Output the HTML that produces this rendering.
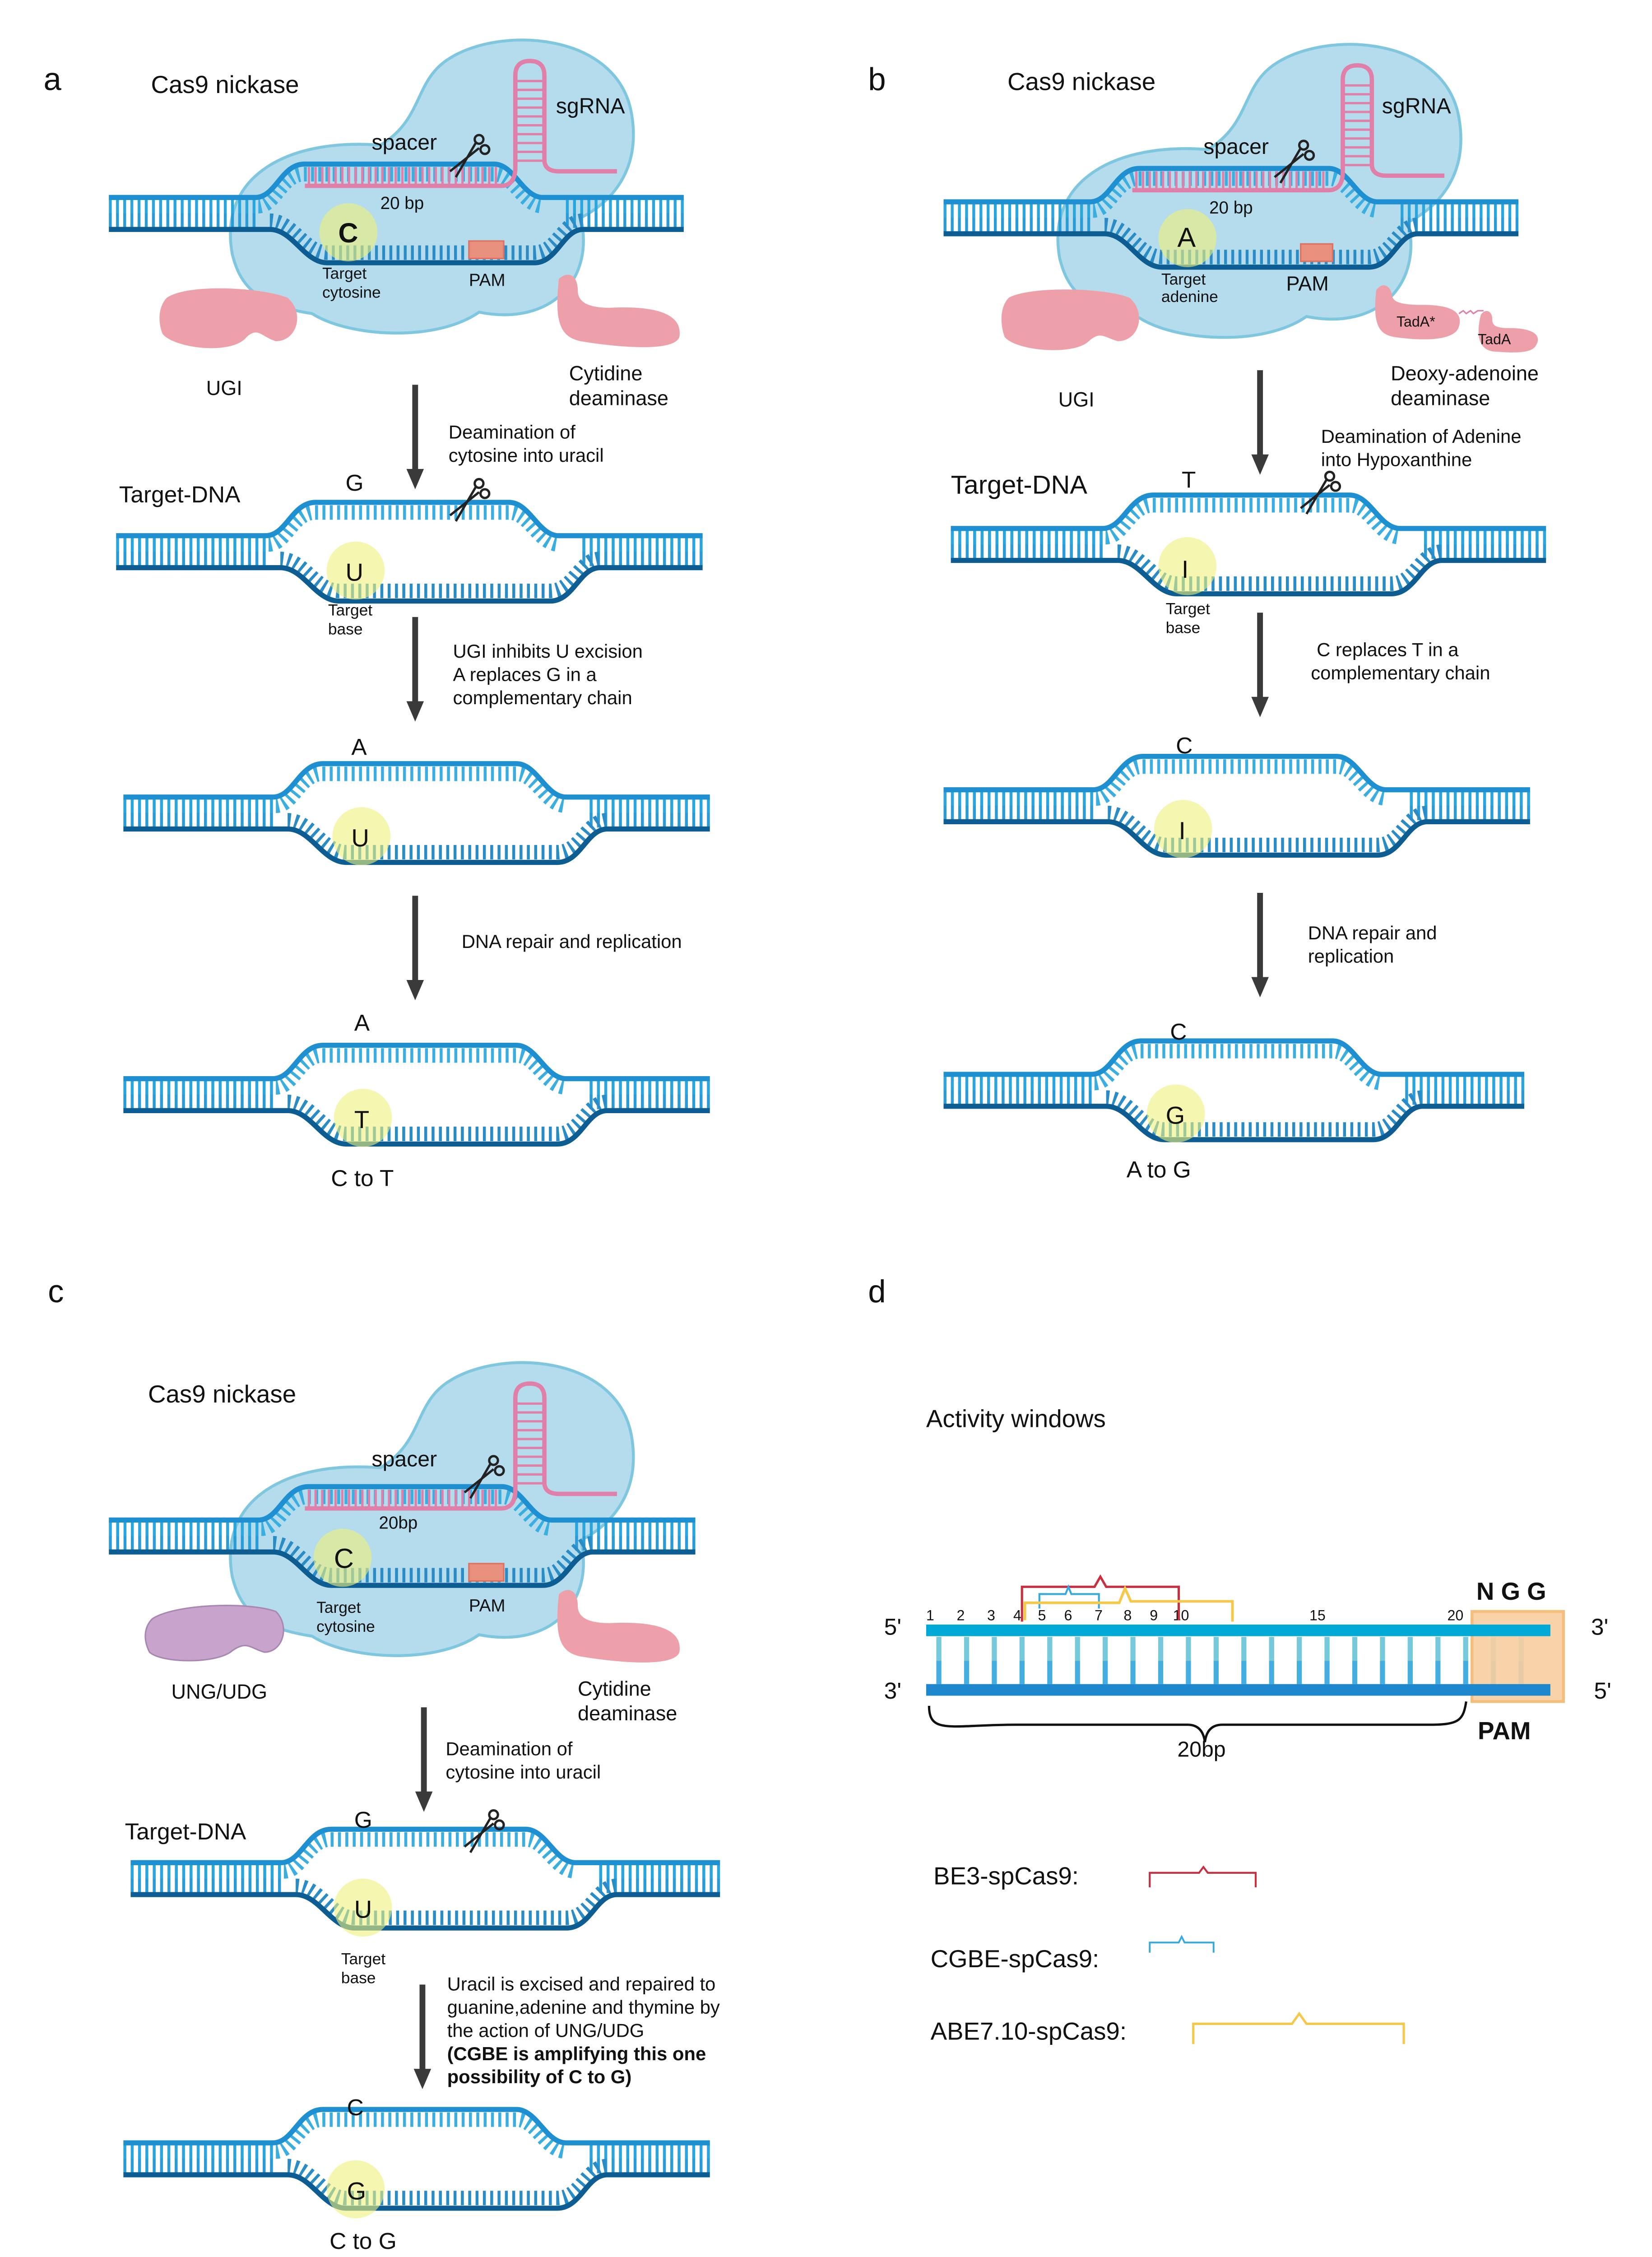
<!DOCTYPE html>
<html><head><meta charset="utf-8"><style>
html,body{margin:0;padding:0;background:#fff;overflow:hidden;width:3660px;height:5117px;}
svg{display:block;}
text{font-family:"Liberation Sans",sans-serif;fill:#111;}
</style></head><body>
<svg width="3660" height="5117" viewBox="0 0 1138 1591" xmlns="http://www.w3.org/2000/svg">
<defs>
 <g id="dna">
  <line x1="0" y1="6" x2="102" y2="6" stroke="#2aa6df" stroke-width="11" stroke-dasharray="2 3"/>
  <line x1="0" y1="16" x2="102" y2="16" stroke="#2a9bd6" stroke-width="10" stroke-dasharray="2 3"/>
  <line x1="318" y1="6" x2="400" y2="6" stroke="#2aa6df" stroke-width="11" stroke-dasharray="2 3"/>
  <line x1="318" y1="16" x2="400" y2="16" stroke="#2a9bd6" stroke-width="10" stroke-dasharray="2 3"/>
  <path d="M104,6 C116,6 120,-16 136,-16 H268 C282,-16 288,6 302,6" fill="none" stroke="#3aaee0" stroke-width="10" stroke-dasharray="2 3"/>
  <path d="M112,16 C128,16 136,38 152,38 H296 C312,38 316,16 330,16" fill="none" stroke="#2a8cc6" stroke-width="10" stroke-dasharray="2 3"/>
  <path d="M0,0 H102 C116,0 120,-23 136,-23 H268 C282,-23 288,0 302,0 H400" fill="none" stroke="#1e8fd0" stroke-width="3.5"/>
  <path d="M0,22 H112 C128,22 136,45 152,45 H296 C312,45 316,22 330,22 H400" fill="none" stroke="#0d5d93" stroke-width="3.5"/>
 </g>
 <g id="sc" stroke="#222" stroke-width="1.6" fill="none">
  <line x1="-12" y1="10" x2="8" y2="-6"/><line x1="-8" y1="14" x2="6" y2="-10"/>
  <circle cx="8" cy="-12" r="3"/><circle cx="12" cy="-5" r="3"/>
 </g>
 <g id="arr"><line x1="0" y1="0" x2="0" y2="60" stroke="#3a3a3a" stroke-width="4"/><path d="M-6,58 L6,58 L0,72 Z" fill="#3a3a3a"/></g>
 <g id="cas">
  <path d="M160,175 C150,120 200,95 262,100 C292,82 285,55 310,40 C345,18 425,22 435,78 C442,118 420,140 400,150 C410,192 380,225 330,215 C300,236 240,232 215,216 C175,210 165,195 160,175 Z" fill="#b4dcec" stroke="#7fc6df" stroke-width="2"/>
 </g>
 <g id="rna">
  <line x1="365" y1="55" x2="365" y2="112" stroke="#e07fa8" stroke-width="20" stroke-dasharray="1.6 4.5"/>
  <line x1="212" y1="121" x2="345" y2="121" stroke="#e07fa8" stroke-width="12" stroke-dasharray="1.6 3"/>
  <path d="M210,128 H345 Q355,128 355,115 V52 Q355,42 365,42 Q375,42 375,52 V110 Q375,118 385,118 H425" fill="none" stroke="#e07fa8" stroke-width="3"/>
 </g>
</defs>

<!-- Panel a -->
<text x="30" y="62" font-size="22">a</text>
<use href="#cas"/>
<use href="#dna" transform="translate(75,136) scale(0.99,1)"/>
<use href="#rna"/>
<circle cx="240" cy="160" r="20" fill="#eef07a" opacity="0.6"/>
<rect x="323" y="166" width="24" height="12" fill="#e7907e" stroke="#e07060"/>
<use href="#sc" transform="translate(322,108)"/>
<text x="104" y="64" font-size="17">Cas9 nickase</text>
<text x="383" y="78" font-size="15">sgRNA</text>
<text x="256" y="103" font-size="15">spacer</text>
<text x="262" y="144" font-size="12">20 bp</text>
<text x="233" y="167" font-size="19" font-weight="bold">C</text>
<text x="222" y="192" font-size="11">Target</text><text x="222" y="205" font-size="11">cytosine</text>
<text x="323" y="197" font-size="12">PAM</text>
<path d="M115,205 C130,195 180,198 198,205 C210,215 205,235 190,235 C180,232 178,225 170,232 C160,245 120,240 112,230 C108,220 110,210 115,205 Z" fill="#eea0aa"/>
<path d="M385,192 C392,186 398,190 398,200 C398,208 405,212 420,212 C460,210 470,220 468,232 C465,242 430,240 400,235 C385,232 382,220 385,192 Z" fill="#eea0aa"/>
<text x="142" y="272" font-size="14">UGI</text>
<text x="392" y="262" font-size="14">Cytidine</text><text x="392" y="279" font-size="14">deaminase</text>
<use href="#arr" transform="translate(286,265)"/>
<text x="309" y="302" font-size="13">Deamination of</text><text x="309" y="318" font-size="13">cytosine into uracil</text>
<text x="82" y="346" font-size="16">Target-DNA</text>
<use href="#dna" transform="translate(80,369) scale(1.01,1)"/>
<text x="238" y="338" font-size="16">G</text>
<use href="#sc" transform="translate(322,345)"/>
<circle cx="245" cy="393" r="20" fill="#eef07a" opacity="0.6"/>
<text x="238" y="400" font-size="17">U</text>
<text x="226" y="424" font-size="11">Target</text><text x="226" y="437" font-size="11">base</text>
<use href="#arr" transform="translate(286,425)"/>
<text x="312" y="453" font-size="13">UGI inhibits U excision</text><text x="312" y="469" font-size="13">A replaces G in a</text><text x="312" y="485" font-size="13">complementary chain</text>
<use href="#dna" transform="translate(85,549) scale(1.01,1)"/>
<text x="242" y="520" font-size="16">A</text>
<circle cx="249" cy="576" r="20" fill="#eef07a" opacity="0.6"/>
<text x="242" y="583" font-size="17">U</text>
<use href="#arr" transform="translate(286,617)"/>
<text x="318" y="653" font-size="13">DNA repair and replication</text>
<use href="#dna" transform="translate(85,743) scale(1.01,1)"/>
<text x="244" y="710" font-size="16">A</text>
<circle cx="250" cy="770" r="20" fill="#eef07a" opacity="0.6"/>
<text x="244" y="777" font-size="17">T</text>
<text x="228" y="817" font-size="16">C to T</text>

<!-- Panel b -->
<text x="598" y="62" font-size="22">b</text>
<g transform="translate(570,3)"><use href="#cas"/></g>
<use href="#dna" transform="translate(650,139) scale(0.99,1)"/>
<g transform="translate(570,3)"><use href="#rna"/></g>
<circle cx="818" cy="164" r="20" fill="#eef07a" opacity="0.6"/>
<rect x="896" y="168" width="22" height="12" fill="#e7907e" stroke="#e07060"/>
<use href="#sc" transform="translate(890,112)"/>
<text x="694" y="62" font-size="17">Cas9 nickase</text>
<text x="952" y="78" font-size="15">sgRNA</text>
<text x="829" y="106" font-size="15">spacer</text>
<text x="833" y="147" font-size="12">20 bp</text>
<text x="811" y="170" font-size="19">A</text>
<text x="800" y="196" font-size="11">Target</text><text x="800" y="208" font-size="11">adenine</text>
<text x="886" y="200" font-size="14">PAM</text>
<path d="M695,205 C710,197 760,198 778,205 C790,215 785,235 770,235 C760,232 758,228 750,235 C740,245 700,242 692,232 C688,220 690,210 695,205 Z" fill="#eea0aa"/>
<path d="M948,200 C952,194 958,196 959,204 C960,208 965,210 980,210 C1000,210 1008,215 1005,225 C1002,235 980,235 960,232 C948,230 946,220 948,200 Z" fill="#eea0aa"/>
<path d="M1020,217 C1023,212 1028,214 1028,220 C1028,224 1030,226 1040,226 C1058,226 1062,232 1058,238 C1055,244 1040,243 1028,242 C1018,240 1017,230 1020,217 Z" fill="#eea0aa"/>
<path d="M1005,216 l3,-2 l2,2 l3,-2 l2,2 l3,-2 h4" stroke="#e07fa8" fill="none"/>
<text x="962" y="225" font-size="10">TadA*</text>
<text x="1018" y="237" font-size="10">TadA</text>
<text x="729" y="280" font-size="14">UGI</text>
<text x="958" y="262" font-size="14">Deoxy-adenoine</text><text x="958" y="279" font-size="14">deaminase</text>
<use href="#arr" transform="translate(868,255)"/>
<text x="910" y="305" font-size="13">Deamination of Adenine</text><text x="910" y="321" font-size="13">into Hypoxanthine</text>
<text x="655" y="340" font-size="18">Target-DNA</text>
<use href="#dna" transform="translate(655,364) scale(1.025,1)"/>
<text x="814" y="336" font-size="16">T</text>
<use href="#sc" transform="translate(908,340)"/>
<circle cx="818" cy="390" r="20" fill="#eef07a" opacity="0.6"/>
<text x="814" y="398" font-size="17">I</text>
<text x="803" y="423" font-size="11">Target</text><text x="803" y="436" font-size="11">base</text>
<use href="#arr" transform="translate(868,422)"/>
<text x="907" y="452" font-size="13">C replaces T in a</text><text x="903" y="468" font-size="13">complementary chain</text>
<use href="#dna" transform="translate(650,544) scale(1.01,1)"/>
<text x="810" y="519" font-size="16">C</text>
<circle cx="815" cy="571" r="20" fill="#eef07a" opacity="0.6"/>
<text x="812" y="578" font-size="17">I</text>
<use href="#arr" transform="translate(868,615)"/>
<text x="901" y="647" font-size="13">DNA repair and</text><text x="901" y="663" font-size="13">replication</text>
<use href="#dna" transform="translate(650,740) scale(1.0,1)"/>
<text x="806" y="716" font-size="16">C</text>
<circle cx="810" cy="767" r="20" fill="#eef07a" opacity="0.6"/>
<text x="803" y="774" font-size="17">G</text>
<text x="776" y="811" font-size="16">A to G</text>

<!-- Panel c -->
<text x="33" y="897" font-size="22">c</text>
<g transform="translate(0,911)"><use href="#cas"/></g>
<use href="#dna" transform="translate(75,1047) scale(1.01,1)"/>
<g transform="translate(0,911)"><use href="#rna"/></g>
<circle cx="236" cy="1073" r="20" fill="#eef07a" opacity="0.6"/>
<rect x="323" y="1077" width="24" height="12" fill="#e7907e" stroke="#e07060"/>
<use href="#sc" transform="translate(332,1018)"/>
<text x="102" y="966" font-size="17">Cas9 nickase</text>
<text x="256" y="1010" font-size="15">spacer</text>
<text x="261" y="1053" font-size="12">20bp</text>
<text x="230" y="1080" font-size="19">C</text>
<text x="218" y="1111" font-size="11">Target</text><text x="218" y="1124" font-size="11">cytosine</text>
<text x="323" y="1110" font-size="12">PAM</text>
<path d="M105,1115 C120,1105 170,1103 190,1110 C200,1120 195,1138 182,1138 C172,1135 170,1130 160,1137 C150,1146 112,1146 103,1138 C98,1128 100,1120 105,1115 Z" fill="#c8a4cc" stroke="#a888b0"/>
<path d="M385,1098 C392,1092 398,1096 398,1106 C398,1114 405,1118 420,1118 C460,1116 470,1126 468,1138 C465,1148 430,1146 400,1141 C385,1138 382,1126 385,1098 Z" fill="#eea0aa"/>
<text x="118" y="1170" font-size="14">UNG/UDG</text>
<text x="398" y="1168" font-size="14">Cytidine</text><text x="398" y="1185" font-size="14">deaminase</text>
<use href="#arr" transform="translate(292,1176)"/>
<text x="307" y="1209" font-size="13">Deamination of</text><text x="307" y="1225" font-size="13">cytosine into uracil</text>
<text x="86" y="1267" font-size="16">Target-DNA</text>
<use href="#dna" transform="translate(90,1283) scale(1.015,1)"/>
<text x="244" y="1259" font-size="16">G</text>
<use href="#sc" transform="translate(332,1262)"/>
<circle cx="250" cy="1314" r="20" fill="#eef07a" opacity="0.6"/>
<text x="244" y="1321" font-size="17">U</text>
<text x="235" y="1353" font-size="11">Target</text><text x="235" y="1366" font-size="11">base</text>
<use href="#arr" transform="translate(291,1367)"/>
<text x="308" y="1371" font-size="13">Uracil is excised and repaired to</text>
<text x="308" y="1387" font-size="13">guanine,adenine and thymine by</text>
<text x="308" y="1403" font-size="13">the action of UNG/UDG</text>
<text x="308" y="1419" font-size="13" font-weight="bold">(CGBE is amplifying this one</text>
<text x="308" y="1435" font-size="13" font-weight="bold">possibility of C to G)</text>
<use href="#dna" transform="translate(85,1476) scale(1.01,1)"/>
<text x="239" y="1457" font-size="16">C</text>
<circle cx="245" cy="1508" r="20" fill="#eef07a" opacity="0.6"/>
<text x="239" y="1515" font-size="17">G</text>
<text x="227" y="1549" font-size="16">C to G</text>

<!-- Panel d -->
<text x="598" y="897" font-size="22">d</text>
<text x="638" y="983" font-size="17">Activity windows</text>
<line x1="645" y1="1136" x2="1063" y2="1136" stroke="#76c9db" stroke-width="17" stroke-dasharray="3.5 15.6"/>
<line x1="645" y1="1152" x2="1063" y2="1152" stroke="#45aee0" stroke-width="16" stroke-dasharray="3.5 15.6"/>
<rect x="1014" y="1110" width="63" height="62" fill="#f8cfa0" stroke="#f5b870" stroke-width="2" opacity="0.9"/>
<rect x="638" y="1119" width="430" height="8" fill="#00a9d6"/>
<rect x="638" y="1160" width="430" height="8" fill="#1e88cf"/>
<text x="609" y="1126" font-size="16">5'</text>
<text x="609" y="1170" font-size="16">3'</text>
<text x="1096" y="1126" font-size="16">3'</text>
<text x="1098" y="1170" font-size="16">5'</text>
<text x="1017" y="1102" font-size="17" font-weight="bold">N G G</text>
<text x="1018" y="1198" font-size="17" font-weight="bold">PAM</text>
<g font-size="10">
<text x="638" y="1116">1</text><text x="659" y="1116">2</text><text x="680" y="1116">3</text><text x="698" y="1116">4</text><text x="715" y="1116">5</text><text x="733" y="1116">6</text><text x="754" y="1116">7</text><text x="774" y="1116">8</text><text x="792" y="1116">9</text><text x="808" y="1116">10</text><text x="902" y="1116">15</text><text x="997" y="1116">20</text>
</g>
<path d="M704,1117 V1093 H754 L758,1086 L762,1093 H812 V1116" fill="none" stroke="#c83040" stroke-width="1.6"/>
<path d="M716,1108 V1098 H734 L736,1093 L738,1098 H757 V1108" fill="none" stroke="#35a8dc" stroke-width="1.3"/>
<path d="M706,1116 V1104 H771 L775,1094 L779,1103 H849 V1117" fill="none" stroke="#f5c84a" stroke-width="1.8"/>
<path d="M640,1175 C640,1195 655,1188 700,1188 H818 C825,1188 829,1192 830,1200 C831,1192 835,1188 842,1188 H985 C1005,1188 1008,1185 1010,1172" fill="none" stroke="#111" stroke-width="1.6"/>
<text x="811" y="1210" font-size="15">20bp</text>
<text x="643" y="1298" font-size="17">BE3-spCas9:</text>
<path d="M792,1300 V1290 H826 L829,1286 L832,1290 H865 V1300" fill="none" stroke="#c83040" stroke-width="1.3"/>
<text x="641" y="1355" font-size="17">CGBE-spCas9:</text>
<path d="M792,1345 V1338 H812 L814,1334 L816,1338 H836 V1345" fill="none" stroke="#35a8dc" stroke-width="1.2"/>
<text x="641" y="1405" font-size="17">ABE7.10-spCas9:</text>
<path d="M822,1408 V1394 H890 L895,1387 L900,1394 H967 V1408" fill="none" stroke="#f5c84a" stroke-width="1.6"/>
</svg>
</body></html>
